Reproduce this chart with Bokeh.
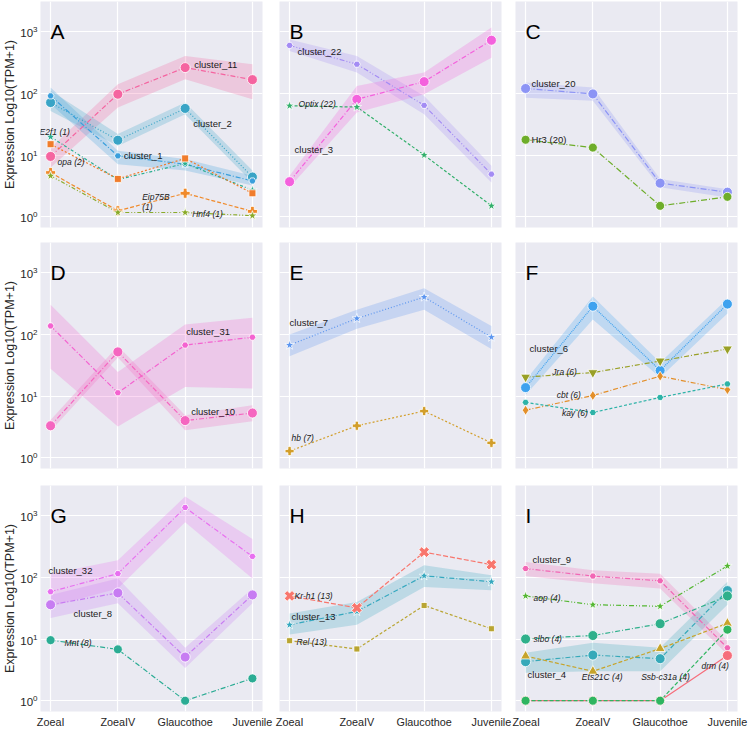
import math
from bokeh.plotting import figure
from bokeh.layouts import gridplot
from bokeh.models import Range1d, FixedTicker, LogAxis, LinearAxis, Grid, ColumnDataSource
from bokeh.core.properties import value
from bokeh.embed import file_html
from bokeh.resources import INLINE

# ---------------- data ----------------
stages = ["ZoeaI", "ZoeaIV", "Glaucothoe", "Juvenile"]
X = [0, 1, 2, 3]

# Panel A
A_cluster_11 = [9.5, 97, 262, 167]
A_cluster_11_lo = [6.3, 59, 170, 80]
A_cluster_11_hi = [13, 141, 405, 297]
A_cluster_2 = [71, 17.4, 57, 4.4]
A_cluster_2_lo = [52, 14, 46, 3.6]
A_cluster_2_hi = [110, 22, 71, 5.6]
A_cluster_1 = [91, 9.7, 7.1, 3.8]
A_cluster_1_lo = [67, 7.1, 5.6, 3.2]
A_cluster_1_hi = [125, 11.7, 8.6, 4.6]
A_E2f1 = [19.7, 4.0, 7.3, 2.7]
A_opa = [15, 4.1, 8.8, 2.4]
A_Eip75B = [5.2, 1.25, 2.4, 1.22]
A_Hnf4 = [4.6, 1.17, 1.17, 1.04]

# Panel B
B_cluster_22 = [600, 297, 64, 4.9]
B_cluster_22_lo = [488, 218, 46, 3.6]
B_cluster_22_hi = [750, 405, 91, 6.7]
B_cluster_3 = [3.7, 80, 155, 727]
B_cluster_3_lo = [3.0, 49, 97, 380]
B_cluster_3_hi = [4.6, 132, 218, 1170]
B_Optix = [63, 60, 10, 1.5]

# Panel C
C_cluster_20 = [120, 98, 3.5, 2.5]
C_cluster_20_lo = [85, 76, 3.0, 2.05]
C_cluster_20_hi = [150, 124, 4.1, 2.8]
C_Hr3 = [17.7, 13.2, 1.5, 2.1]

# Panel D
D_cluster_31 = [137, 11.3, 67, 90]
D_cluster_31_lo = [27.6, 3.2, 14, 13.2]
D_cluster_31_hi = [303, 24.5, 145, 186]
D_cluster_10 = [3.3, 52, 4.0, 5.3]
D_cluster_10_lo = [2.7, 42, 2.8, 3.9]
D_cluster_10_hi = [4.1, 65, 4.9, 7.1]

# Panel E
E_cluster_7 = [67, 181, 403, 90]
E_cluster_7_lo = [44, 123, 252, 58]
E_cluster_7_hi = [100, 251, 560, 137]
E_hb = [1.28, 3.3, 5.7, 1.74]

# Panel F
F_cluster_6 = [13.7, 286, 26, 310]
F_cluster_6_lo = [10.4, 175, 20, 218]
F_cluster_6_hi = [18, 413, 35, 380]
F_Jra = [20.3, 24, 37, 58]
F_cbt = [5.9, 10.2, 21, 12.7]
F_kay = [7.9, 5.4, 9.5, 15.7]

# Panel G
G_cluster_32 = [58.5, 115, 1360, 219]
G_cluster_32_lo = [33.5, 66, 780, 96]
G_cluster_32_hi = [115, 189, 2040, 420]
G_cluster_8 = [36, 56, 5.1, 52]
G_cluster_8_lo = [22, 38, 3.4, 38]
G_cluster_8_hi = [52, 96, 7.2, 66]
G_Mnt = [9.6, 6.8, 1.0, 2.3]

# Panel H
H_Kr_h1 = [50, 32, 257, 161]
H_cluster_13 = [17, 28, 106, 85]
H_cluster_13_lo = [11.8, 17, 70, 62]
H_cluster_13_hi = [26, 40, 157, 108]
H_Rel = [9.4, 6.9, 35, 14.7]

# Panel I
I_cluster_9 = [139, 105, 88, 7.2]
I_cluster_9_lo = [105, 80, 66, 5.6]
I_cluster_9_hi = [178, 131, 115, 9.2]
I_aop = [50, 36, 34, 153]
I_slbo = [10, 11.4, 17.7, 50]
I_cluster_4 = [4.3, 5.5, 4.8, 61]
I_cluster_4_lo = [2.85, 3.0, 3.0, 36]
I_cluster_4_hi = [6.0, 8.7, 7.2, 85]
I_Ets21C = [5.3, 3.0, 7.0, 18]
I_Ssb_c31a = [1.0, 1.0, 1.0, 14.2]
I_drm = [1.0, 1.0, 1.0, 5.4]

y_ticks = [1, 10, 100, 1000]

# ---------------- panels ----------------
panels = [
    ("A", [("cluster_11", A_cluster_11, A_cluster_11_lo, A_cluster_11_hi),
           ("cluster_2", A_cluster_2, A_cluster_2_lo, A_cluster_2_hi),
           ("cluster_1", A_cluster_1, A_cluster_1_lo, A_cluster_1_hi),
           ("E2f1", A_E2f1, None, None),
           ("opa", A_opa, None, None),
           ("Eip75B", A_Eip75B, None, None),
           ("Hnf4", A_Hnf4, None, None)]),
    ("B", [("cluster_22", B_cluster_22, B_cluster_22_lo, B_cluster_22_hi),
           ("cluster_3", B_cluster_3, B_cluster_3_lo, B_cluster_3_hi),
           ("Optix", B_Optix, None, None)]),
    ("C", [("cluster_20", C_cluster_20, C_cluster_20_lo, C_cluster_20_hi),
           ("Hr3", C_Hr3, None, None)]),
    ("D", [("cluster_31", D_cluster_31, D_cluster_31_lo, D_cluster_31_hi),
           ("cluster_10", D_cluster_10, D_cluster_10_lo, D_cluster_10_hi)]),
    ("E", [("cluster_7", E_cluster_7, E_cluster_7_lo, E_cluster_7_hi),
           ("hb", E_hb, None, None)]),
    ("F", [("cluster_6", F_cluster_6, F_cluster_6_lo, F_cluster_6_hi),
           ("Jra", F_Jra, None, None),
           ("cbt", F_cbt, None, None),
           ("kay", F_kay, None, None)]),
    ("G", [("cluster_32", G_cluster_32, G_cluster_32_lo, G_cluster_32_hi),
           ("cluster_8", G_cluster_8, G_cluster_8_lo, G_cluster_8_hi),
           ("Mnt", G_Mnt, None, None)]),
    ("H", [("cluster_13", H_cluster_13, H_cluster_13_lo, H_cluster_13_hi),
           ("Kr-h1", H_Kr_h1, None, None),
           ("Rel", H_Rel, None, None)]),
    ("I", [("cluster_9", I_cluster_9, I_cluster_9_lo, I_cluster_9_hi),
           ("cluster_4", I_cluster_4, I_cluster_4_lo, I_cluster_4_hi),
           ("aop", I_aop, None, None),
           ("slbo", I_slbo, None, None),
           ("Ets21C", I_Ets21C, None, None),
           ("drm", I_drm, None, None),
           ("Ssb-c31a", I_Ssb_c31a, None, None)]),
]

# styles: color, marker, size, dash, angle
STY = {
    "cluster_11": ("#f564a0", "circle", 10, "5 2 1 2", 0),
    "cluster_2": ("#39a4c6", "circle", 10, "1 2", 0),
    "cluster_1": ("#3a9fdc", "hex", 7, "5 2 1 2", 0),
    "E2f1": ("#2aae8f", "star", 10, "3 2 1 2", 0),
    "opa": ("#f07c2c", "square", 7, "2 2", 0),
    "Eip75B": ("#f08a2a", "plus", 10, "4 2", 0),
    "Hnf4": ("#8aab2a", "star", 10, "4 2 1 2 1 2", 0),
    "cluster_22": ("#a48cf4", "hex", 7, "5 2 1 2 1 2", 0),
    "cluster_3": ("#f461dd", "circle", 10, "5 2 1 2", 0),
    "Optix": ("#33b06b", "star", 10, "3 2", 0),
    "cluster_20": ("#8c94f5", "circle", 10, "6 2 1 2", 0),
    "Hr3": ("#6ead2a", "circle", 9, "6 2 1 2", 0),
    "cluster_31": ("#f463d0", "hex", 7, "5 2 1 2", 0),
    "cluster_10": ("#f566c0", "circle", 10, "5 2 1 2", 0),
    "cluster_7": ("#5b95f0", "star", 10, "1 2", 0),
    "hb": ("#d29e2a", "plus", 9, "2 2", 0),
    "cluster_6": ("#3ea2ef", "circle", 10, "1 1", 0),
    "Jra": ("#99a026", "inverted_triangle", 10, "5 2 1 2", 0),
    "cbt": ("#e38f2a", "diamond", 10, "5 2 1 2", 0),
    "kay": ("#2eb3a8", "hex", 7, "3 2", 0),
    "cluster_32": ("#e870f0", "hex", 7, "5 2 1 2", 0),
    "cluster_8": ("#c77cf2", "circle", 10, "5 2 1 2", 0),
    "Mnt": ("#2bac94", "circle", 9, "5 2 1 2", 0),
    "Kr-h1": ("#f8766d", "plus", 11, "5 2", math.pi / 4),
    "cluster_13": ("#36a8bf", "star", 10, "5 2 1 2", 0),
    "Rel": ("#b9a532", "square", 6, "3 2", 0),
    "cluster_9": ("#f267b5", "hex", 7, "5 2 1 2", 0),
    "aop": ("#55b733", "star", 10, "5 2 1 2 1 2", 0),
    "slbo": ("#2fb08b", "circle", 10, "5 2 1 2", 0),
    "cluster_4": ("#36a9b9", "circle", 10, "5 2 1 2", 0),
    "Ets21C": ("#c7a42a", "triangle", 10, "4 2", 0),
    "drm": ("#f66d7b", "circle", 10, "solid", 0),
    "Ssb-c31a": ("#2fb560", "circle", 9, "4 2", 0),
}

# labels: series key, text, anchor index, dx, dy (px), italic, align
LABELS = {
    "A": [("cluster_11", "cluster_11", 2, 9, -3, False, "left"),
          ("cluster_2", "cluster_2", 2, 8, 15, False, "left"),
          ("cluster_1", "cluster_1", 1, 6, 0, False, "left"),
          ("E2f1", "E2f1 (1)", 0, -11, -5, True, "left"),
          ("opa", "opa (2)", 0, 7, 18, True, "left"),
          ("Eip75B", "Eip75B", 2, -43, 4, True, "left"),
          ("Eip75B", "(1)", 2, -43, 14, True, "left"),
          ("Hnf4", "Hnf4 (1)", 2, 7, 1, True, "left")],
    "B": [("cluster_22", "cluster_22", 0, 8, 6, False, "left"),
          ("cluster_3", "cluster_3", 0, 5, -32, False, "left"),
          ("Optix", "Optix (22)", 0, 9, -2, True, "left")],
    "C": [("cluster_20", "cluster_20", 0, 6, -5, False, "left"),
          ("Hr3", "Hr3 (20)", 0, 6, 0, False, "left")],
    "D": [("cluster_31", "cluster_31", 2, 1, -14, False, "left"),
          ("cluster_10", "cluster_10", 2, 6, -9, False, "left")],
    "E": [("cluster_7", "cluster_7", 0, 0, -23, False, "left"),
          ("hb", "hb (7)", 0, 2, -13, True, "left")],
    "F": [("cluster_6", "cluster_6", 0, 4, -39, False, "left"),
          ("Jra", "Jra (6)", 1, -16, -1, True, "right"),
          ("cbt", "cbt (6)", 1, -12, -1, True, "right"),
          ("kay", "kay (6)", 1, -5, 0, True, "right")],
    "G": [("cluster_32", "cluster_32", 0, -2, -21, False, "left"),
          ("cluster_8", "cluster_8", 0, 23, 9, False, "left"),
          ("Mnt", "Mnt (8)", 0, 14, 3, True, "left")],
    "H": [("Kr-h1", "Kr-h1 (13)", 0, 5, 0, True, "left"),
          ("cluster_13", "cluster_13", 0, 2, -8, False, "left"),
          ("Rel", "Rel (13)", 0, 7, 1, True, "left")],
    "I": [("cluster_9", "cluster_9", 0, 7, -9, False, "left"),
          ("aop", "aop (4)", 0, 8, 2, True, "left"),
          ("slbo", "slbo (4)", 0, 8, 0, True, "left"),
          ("cluster_4", "cluster_4", 0, 2, 13, False, "left"),
          ("Ets21C", "Ets21C (4)", 1, -11, 6, True, "left"),
          ("Ssb-c31a", "Ssb-c31a (4)", 2, -19, -24, True, "left"),
          ("drm", "drm (4)", 3, -26, 10, True, "left")],
}

FONT = "Liberation Sans"
TXT = "#1a1a1a"
BG = "#EAEAF2"

BORD_L = [39, 5, 3]
BORD_R = [12, 11, 14]
BORD_T = [1, 7, 9]
BORD_B = [8, 8, 20]
FH = 226

figs = []
for k, (letter, series) in enumerate(panels):
    r, c = divmod(k, 3)
    p = figure(frame_width=222, frame_height=FH,
               x_range=Range1d(-0.15, 3.15),
               y_range=Range1d(10 ** -0.175, 10 ** 3.49),
               y_axis_type="log", x_axis_location=None, y_axis_location=None,
               output_backend="svg", toolbar_location=None,
               min_border_left=BORD_L[c], min_border_right=BORD_R[c],
               min_border_top=BORD_T[r], min_border_bottom=BORD_B[r])
    p.background_fill_color = BG
    p.border_fill_color = "white"
    p.outline_line_color = None
    p.center = [o for o in p.center if not isinstance(o, Grid)]
    p.add_layout(Grid(dimension=0, ticker=FixedTicker(ticks=X),
                      grid_line_color="white", grid_line_width=1.2), "center")
    p.add_layout(Grid(dimension=1, ticker=FixedTicker(ticks=y_ticks),
                      grid_line_color="white", grid_line_width=1.2), "center")

    if c == 0:
        ax = LogAxis(ticker=FixedTicker(ticks=y_ticks),
                     axis_label="Expression Log10(TPM+1)")
        ax.axis_line_color = None
        ax.major_tick_line_color = None
        ax.minor_tick_line_color = None
        ax.major_tick_out = 0
        ax.minor_tick_out = 0
        ax.major_label_standoff = 3
        ax.axis_label_standoff = 0
        ax.major_label_text_font = FONT
        ax.major_label_text_font_size = "11.5px"
        ax.major_label_text_color = "#262626"
        ax.axis_label_text_font = FONT
        ax.axis_label_text_font_size = "12.5px"
        ax.axis_label_text_font_style = "normal"
        ax.axis_label_text_color = "#262626"
        p.add_layout(ax, "left")
    if r == 2:
        ax = LinearAxis(ticker=FixedTicker(ticks=X),
                        major_label_overrides={i: s for i, s in zip(X, stages)})
        ax.axis_line_color = None
        ax.major_tick_line_color = None
        ax.minor_tick_line_color = None
        ax.major_tick_out = 0
        ax.minor_tick_out = 0
        ax.major_label_standoff = 4
        ax.major_label_text_font = FONT
        ax.major_label_text_font_size = "10.8px"
        ax.major_label_text_color = "#262626"
        p.add_layout(ax, "below")

    vals = {}
    for key, ys, lo, hi in series:
        vals[key] = ys
        if lo is not None:
            col = STY[key][0]
            p.varea(x=X, y1=lo, y2=hi, fill_color=col, fill_alpha=0.25)
    for key, ys, lo, hi in series:
        col, mk, sz, dash, ang = STY[key]
        p.line(x=X, y=ys, line_color=col, line_width=1.2, line_dash=dash)
    for key, ys, lo, hi in series:
        col, mk, sz, dash, ang = STY[key]
        p.scatter(x=X, y=ys, marker=mk, size=sz, angle=ang, fill_color=col,
                  line_color="white", line_width=0.8)

    for key, text, idx, dx, dy, ital, align in LABELS[letter]:
        p.text(x=[X[idx]], y=[vals[key][idx]], text=[text], x_offset=dx, y_offset=dy,
               text_font=value(FONT),
               text_font_size="8.5px" if ital else "9.5px",
               text_font_style="italic" if ital else "normal",
               text_color=TXT, text_align=align, text_baseline="middle")

    p.text(x=[0], y=[1000], text=[letter], text_font=value(FONT),
           text_font_size="21px", text_color="black",
           text_align="left", text_baseline="alphabetic")
    figs.append(p)

grid = gridplot([figs[0:3], figs[3:6], figs[6:9]], toolbar_location=None)
open("out.html", "w").write(file_html(grid, INLINE))
